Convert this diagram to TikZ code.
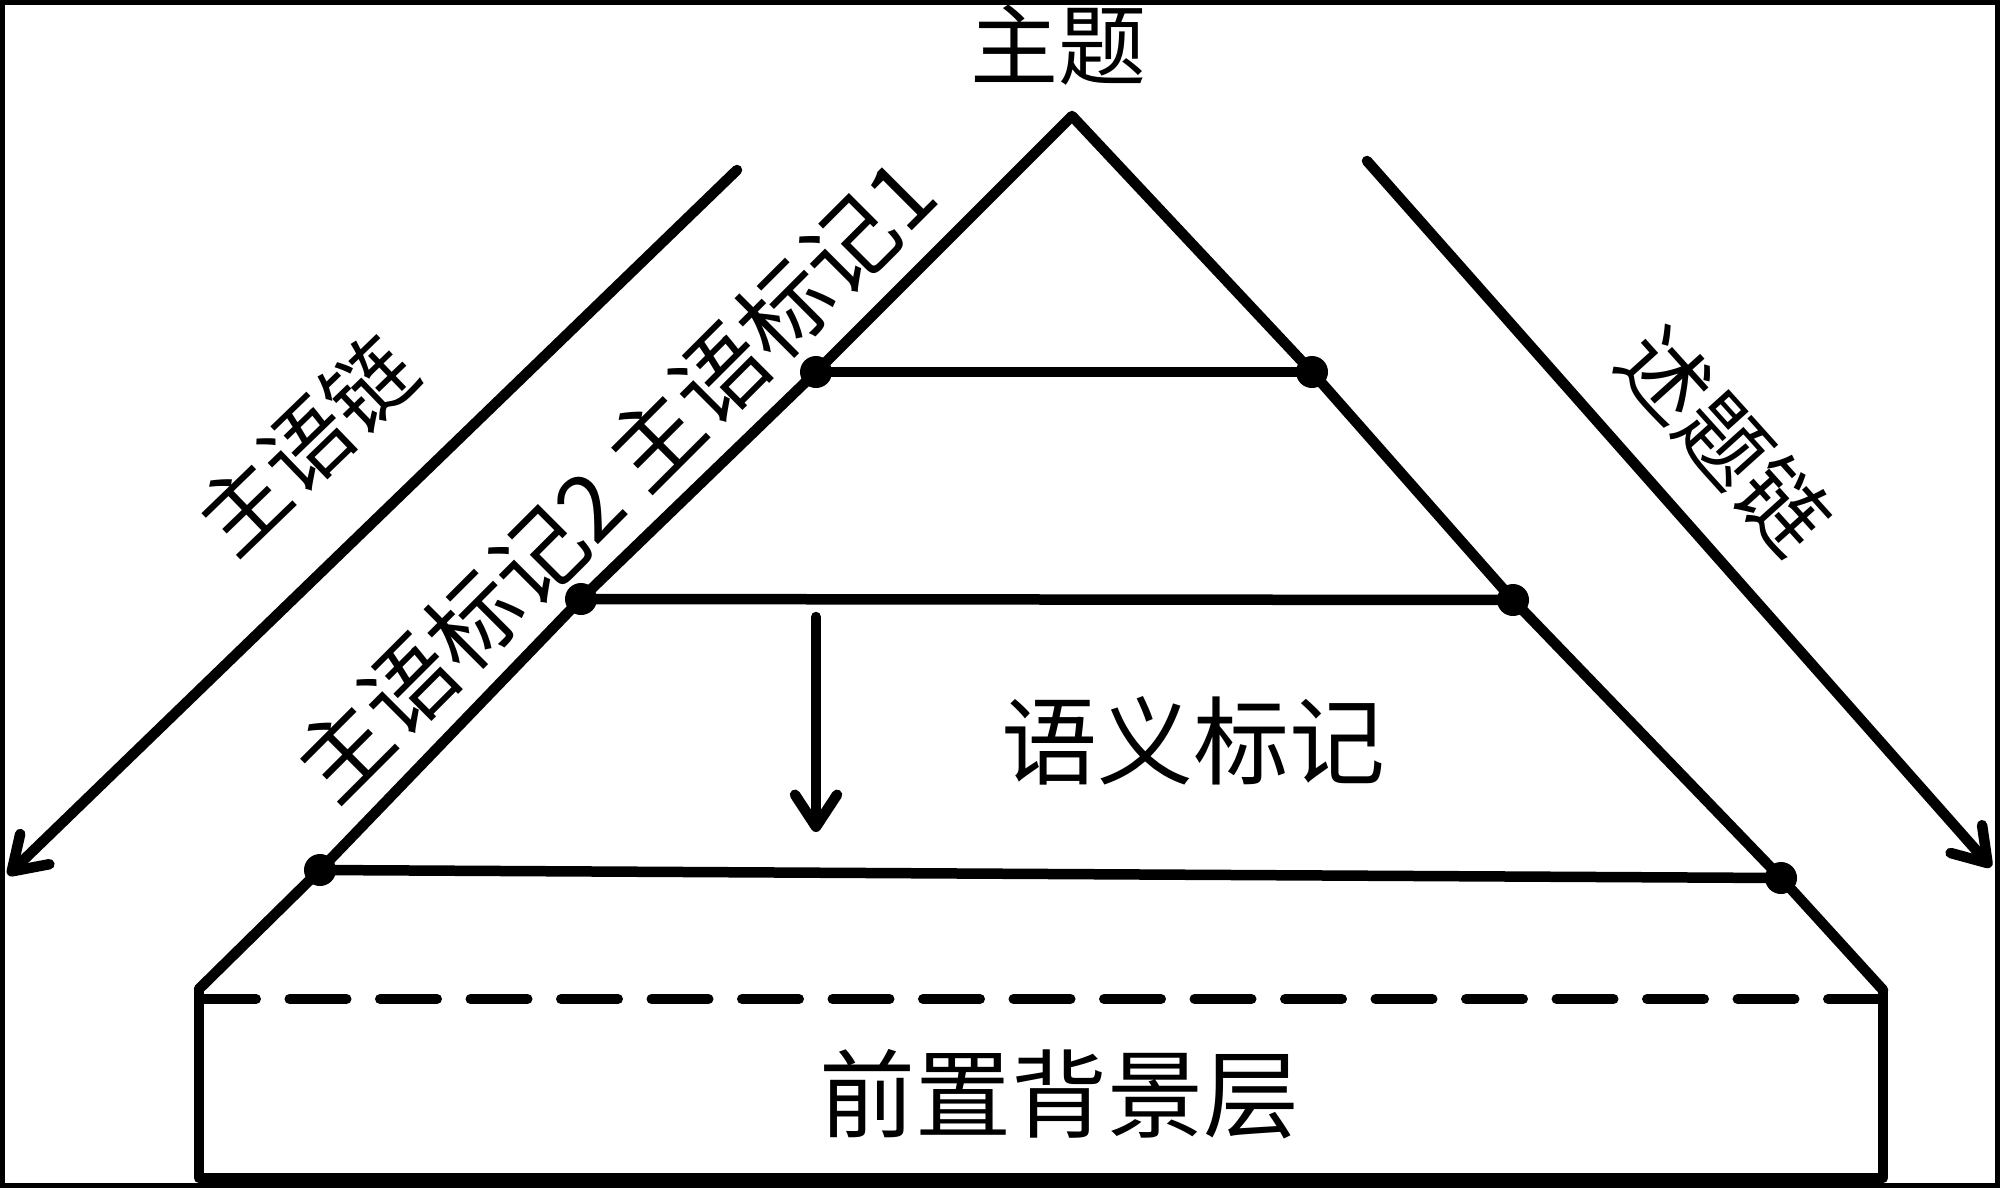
\documentclass[tikz,border=0pt]{standalone}
\usepackage{fontspec}
\setmainfont{Noto Sans CJK SC}
\usetikzlibrary{arrows.meta}
\tikzset{
  thick line/.style={line width=5.25pt, line cap=round, line join=round},
  dotnode/.style={circle, fill=black, inner sep=0pt, minimum size=16pt},
  barb/.style={-{Straight Barb[length=16pt,width=21pt,line cap=round,line join=round]}},
  bigtext/.style={font=\fontsize{48pt}{56pt}\selectfont, inner sep=0pt},
  midtext/.style={font=\fontsize{44pt}{52pt}\selectfont, inner sep=0pt},
  marktext/.style={font=\fontsize{46pt}{52pt}\selectfont, inner sep=0pt},
}
\begin{document}
\begin{tikzpicture}[x=0.5pt,y=-0.5pt]
\useasboundingbox (0,0) rectangle (2000,1188);
% frame
\draw[line width=2.4pt] (2.4,2.4) rectangle (1997.6,1185.6);

% triangle points
\coordinate (apex) at (1072,116);
\node[dotnode] (L1) at (816,372) {};
\node[dotnode] (L2) at (581,599) {};
\node[dotnode] (L3) at (320,870) {};
\node[dotnode] (R1) at (1312,372) {};
\node[dotnode] (R2) at (1513,600) {};
\node[dotnode] (R3) at (1781,878) {};
\coordinate (BL) at (199,989);
\coordinate (BR) at (1883,990);
\coordinate (BLb) at (199,1178);
\coordinate (BRb) at (1883,1178);
\coordinate (DL) at (199,999);
\coordinate (DR) at (1883,999);

% sides
\draw[thick line] (BL) -- (L3.center) -- (L2.center) -- (L1.center) -- (apex)
  -- (R1.center) -- (R2.center) -- (R3.center) -- (BR);
% levels
\draw[thick line] (L1.center) -- (R1.center);
\draw[thick line] (L2.center) -- (R2.center);
\draw[thick line] (L3.center) -- (R3.center);
% base box
\draw[thick line] (BL) -- (BLb) -- (BRb) -- (BR);
\draw[line width=5pt, line cap=round, dash pattern=on 28.5pt off 16.75pt] (DL) -- (DR);

% arrows
\coordinate (la0) at (737,170);
\coordinate (la1) at (8,875);
\coordinate (ra0) at (1367,161);
\coordinate (ra1) at (1991,867);
\coordinate (va0) at (816,617);
\coordinate (va1) at (816,832);
\draw[thick line, barb] (la0) -- (la1);
\draw[thick line, barb] (ra0) -- (ra1);
\draw[thick line, barb] (va0) -- (va1);

% labels
\node[midtext] (topic) at (1058,45) {主题};
\node[bigtext] (sem) at (1193,741) {语义标记};
\node[bigtext] (bg) at (1059,1094) {前置背景层};
\node[midtext, rotate=44] (subjchain) at (306,445) {主语链};
\node[marktext, rotate=45] (subjmarks) at (614,479) {主语标记2 主语标记1};
\node[midtext, rotate=-48] (rhemechain) at (1725,440) {述题链};
\end{tikzpicture}
\end{document}
